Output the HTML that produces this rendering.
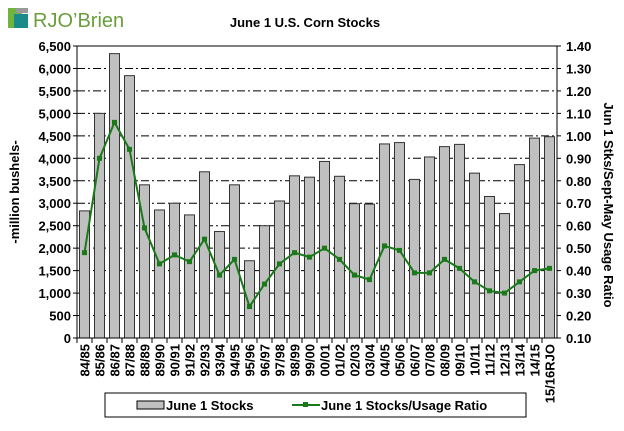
<!DOCTYPE html>
<html><head><meta charset="utf-8"><style>
body{margin:0;background:#fff;width:624px;height:426px;overflow:hidden;font-family:"Liberation Sans",Arial,sans-serif}
</style></head><body>
<svg id="chart" width="624" height="426" xmlns="http://www.w3.org/2000/svg" font-family="Liberation Sans, Arial, sans-serif">
<g>
<rect x="8" y="8" width="14" height="20" fill="#6fb43f"/>
<rect x="14" y="14" width="14" height="14" fill="#1a8a8a"/>
<rect x="16" y="8" width="12" height="5" fill="#999"/>
<text x="33" y="27" font-size="20" fill="#6a9e3a" font-family="Liberation Sans, sans-serif">RJO’Brien</text>
</g>
<text x="305" y="27" font-size="13" font-weight="bold" text-anchor="middle">June 1 U.S. Corn Stocks</text>
<g id="grid"></g><g id="bars"></g><g id="line"></g><g id="axes"></g>
<text transform="translate(19,192) rotate(-90)" font-size="13" font-weight="bold" text-anchor="middle">-million bushels-</text>
<text transform="translate(604,205) rotate(90)" font-size="13" font-weight="bold" text-anchor="middle">Jun 1 Stks/Sept-May Usage Ratio</text>
<g>
<rect x="105" y="393" width="421" height="24" fill="#fff" stroke="#000" stroke-width="1"/>
<rect x="137" y="401" width="27" height="8" fill="#c0c0c0" stroke="#000"/>
<text x="166" y="410" font-size="13" font-weight="bold">June 1 Stocks</text>
<line x1="292" y1="405" x2="320" y2="405" stroke="#1a7a1a" stroke-width="2"/>
<rect x="303" y="402" width="5" height="5" fill="#1a7a1a"/>
<text x="321" y="410" font-size="13" font-weight="bold">June 1 Stocks/Usage Ratio</text>
</g>
</svg>
<script>
const categories=["84/85","85/86","86/87","87/88","88/89","89/90","90/91","91/92","92/93","93/94","94/95","95/96","96/97","97/98","98/99","99/00","00/01","01/02","02/03","03/04","04/05","05/06","06/07","07/08","08/09","09/10","10/11","11/12","12/13","13/14","14/15","15/16RJO"];
const stocks=[2830,5000,6330,5840,3410,2850,3000,2740,3700,2370,3410,1720,2500,3050,3610,3580,3930,3600,2990,2980,4320,4350,3530,4030,4260,4310,3670,3150,2770,3860,4450,4480];
const ratio=[0.48,0.90,1.06,0.94,0.59,0.43,0.47,0.44,0.54,0.38,0.45,0.24,0.34,0.43,0.48,0.46,0.50,0.45,0.38,0.36,0.51,0.49,0.39,0.39,0.45,0.41,0.35,0.31,0.30,0.35,0.40,0.41];
const leftTicks=[0,500,1000,1500,2000,2500,3000,3500,4000,4500,5000,5500,6000,6500];
const rightTicks=[0.10,0.20,0.30,0.40,0.50,0.60,0.70,0.80,0.90,1.00,1.10,1.20,1.30,1.40];
const NS="http://www.w3.org/2000/svg";
const L=77,R=557,T=46,B=338;
const slot=(R-L)/categories.length;
const xC=i=>L+slot*(i+0.5);
const yL=v=>B-(v/6500)*(B-T);
const yR=v=>B-((v-0.1)/1.3)*(B-T);
function mk(tag,attrs,parent){const e=document.createElementNS(NS,tag);for(const k in attrs)e.setAttribute(k,attrs[k]);parent.appendChild(e);return e;}
const grid=document.getElementById('grid'),bars=document.getElementById('bars'),line=document.getElementById('line'),axes=document.getElementById('axes');
leftTicks.forEach((v,i)=>{
  if(v>0&&v<6500){const g=mk('line',{x1:L,x2:R,y1:yL(v),y2:yL(v),stroke:'#000','stroke-width':1,'stroke-dasharray':'8,3,2,3'},grid);
  
  }
  const t=mk('text',{x:L-6,y:yL(v)+5,'font-size':13,'font-weight':'bold','text-anchor':'end'},axes);t.textContent=v.toLocaleString('en-US');
  
  
});
rightTicks.forEach(v=>{
  const t=mk('text',{x:R+9,y:yR(v)+5,'font-size':13,'font-weight':'bold'},axes);t.textContent=v.toFixed(2);
  
  
  mk('line',{x1:R,x2:R+4,y1:yR(v),y2:yR(v),stroke:'#000'},axes);
  mk('line',{x1:L-4,x2:L,y1:yR(v),y2:yR(v),stroke:'#000'},axes);
});
mk('rect',{x:L,y:T,width:R-L,height:B-T,fill:'none',stroke:'#000','stroke-width':1},axes);
stocks.forEach((v,i)=>{
  const b=mk('rect',{x:xC(i)-5,y:yL(v),width:10,height:B-yL(v),fill:'#c0c0c0',stroke:'#333','stroke-width':1},bars);
  
  
});
categories.forEach((c,i)=>{
  mk('line',{x1:L+slot*i,x2:L+slot*i,y1:B,y2:B+5,stroke:'#000'},axes);
  const t=mk('text',{transform:`translate(${xC(i)+5},${B+6}) rotate(-90)`,'font-size':13,'font-weight':'bold','text-anchor':'end'},axes);t.textContent=c;
  
  
});
const pl=mk('polyline',{points:ratio.map((v,i)=>xC(i)+','+yR(v)).join(' '),fill:'none',stroke:'#1a7a1a','stroke-width':2},line);


ratio.forEach((v,i)=>{
  const p=mk('rect',{x:xC(i)-2.5,y:yR(v)-2.5,width:5,height:5,fill:'#1a7a1a'},line);
  
  
});
</script>
</body></html>
